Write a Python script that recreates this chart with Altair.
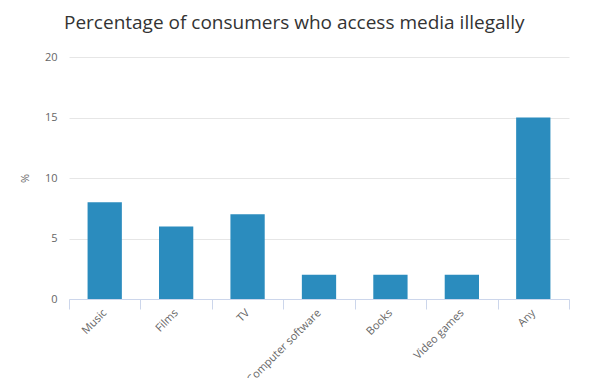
import altair as alt
import pandas as pd

categories = ["Music", "Films", "TV", "Computer software", "Books", "Video games", "Any"]
values = [8, 6, 7, 2, 2, 2, 15]

df = pd.DataFrame({"category": categories, "value": values})

chart = alt.Chart(df).mark_bar(color="#2b8cbe", width=alt.RelativeBandSize(0.48)).encode(
    x=alt.X("category:N", sort=categories, title=None,
            scale=alt.Scale(paddingInner=0, paddingOuter=0),
            axis=alt.Axis(labelAngle=-45, labelAlign="right", labelBaseline="middle",
                          tickBand="extent", tickColor="#ccd6eb", tickSize=10,
                          domainColor="#ccd6eb", labelColor="#666666", labelFontSize=11,
                          labelFont="Open Sans", labelPadding=2, grid=False)),
    y=alt.Y("value:Q", title="%", scale=alt.Scale(domain=[0, 20]),
            axis=alt.Axis(values=[0, 5, 10, 15, 20], domain=False, ticks=False,
                          gridColor="#e6e6e6", labelColor="#666666", labelFontSize=11,
                          labelFont="Open Sans", labelPadding=12,
                          titleColor="#666666", titleFont="Open Sans", titleFontSize=11,
                          titleFontWeight="normal", titlePadding=14)),
).properties(
    width=500, height=242,
    title=alt.TitleParams("Percentage of consumers who access media illegally",
                          anchor="start", frame="group", dx=-5, fontSize=19,
                          font="Open Sans", fontWeight="normal", color="#333333",
                          offset=18),
    autosize=alt.AutoSizeParams(type="none"),
    padding={"left": 61, "top": 49, "right": 26, "bottom": 79},
).configure_view(stroke=None)

chart.save("out.html", embed_options={"renderer": "svg", "actions": False})
